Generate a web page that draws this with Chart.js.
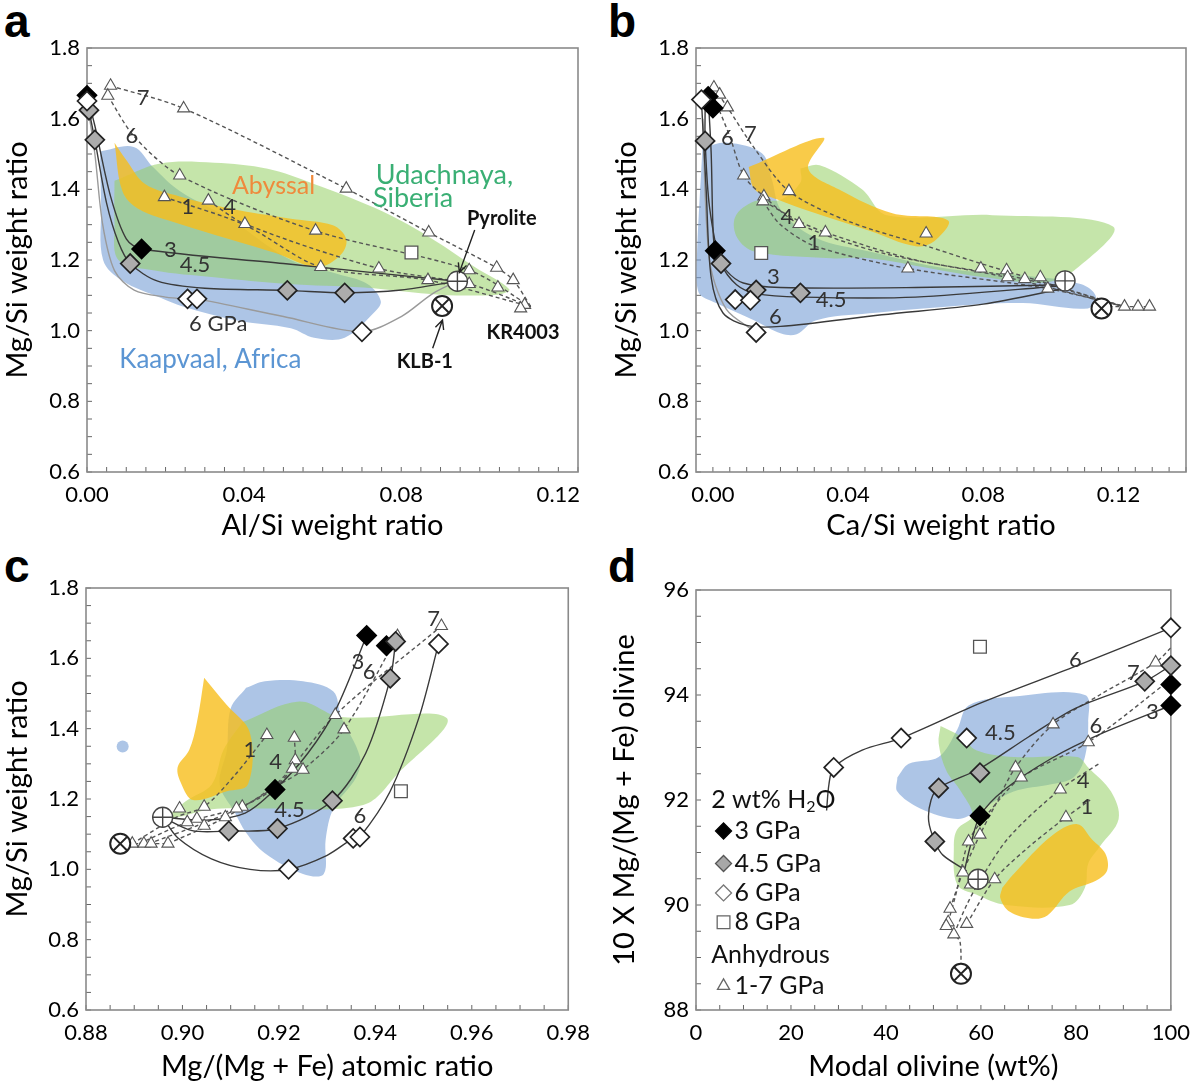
<!DOCTYPE html>
<html>
<head>
<meta charset="utf-8">
<script src="https://cdn.jsdelivr.net/npm/chart.js@4.4.1/dist/chart.umd.min.js"></script>
<style>
  body { margin: 0; background: #fff; width: 1200px; height: 1086px; position: relative; overflow: hidden; }
  .panel { position: absolute; }
  .letter { position: absolute; font: bold 46px/46px "Liberation Sans", Arial, sans-serif; color: #000; }
</style>
</head>
<body>
<div class="letter" style="left:4px;top:-2px">a</div>
<div class="letter" style="left:608px;top:-2px">b</div>
<div class="letter" style="left:4px;top:543px">c</div>
<div class="letter" style="left:608px;top:543px">d</div>
<div class="panel" style="left:0;top:0"><canvas id="chA" width="600" height="545"></canvas></div>
<div class="panel" style="left:600px;top:0"><canvas id="chB" width="600" height="545"></canvas></div>
<div class="panel" style="left:0;top:545px"><canvas id="chC" width="600" height="541"></canvas></div>
<div class="panel" style="left:600px;top:545px"><canvas id="chD" width="600" height="541"></canvas></div>
<script>
// ---------- panel a : Al/Si vs Mg/Si ----------
const aXTicks = [0, 0.04, 0.08, 0.12];
const aYTicks = [0.6, 0.8, 1.0, 1.2, 1.4, 1.6, 1.8];
const aHyd3 = [[0, 1.666], [0.0139, 1.231]];
const aHyd45 = [[0.0005, 1.624], [0.002, 1.54], [0.011, 1.19], [0.051, 1.114], [0.0656, 1.107]];
const aHyd6 = [[0, 1.65], [0.0256, 1.09], [0.028, 1.09], [0.07, 0.997]];
const aHyd8 = [[0.0826, 1.221]];
const aAnhyd = [[0.006, 1.693], [0.0053, 1.665], [0.0246, 1.629], [0.0236, 1.439], [0.0197, 1.378], [0.0309, 1.368],
  [0.0402, 1.302], [0.066, 1.402], [0.0582, 1.283], [0.0595, 1.18], [0.0743, 1.176], [0.087, 1.278], [0.0868, 1.143],
  [0.0973, 1.171], [0.0973, 1.132], [0.1043, 1.178], [0.1046, 1.122], [0.1085, 1.143], [0.1114, 1.073], [0.1104, 1.063]];
const aPyrolite = [[0.0943, 1.14]];
const aKLB1 = [[0.0904, 1.07]];
const aCurve3 = [[0, 1.666], [0.002, 1.58], [0.006, 1.38], [0.010, 1.26], [0.0139, 1.231], [0.05, 1.19], [0.0943, 1.14]];
const aCurve45 = [[0.0005, 1.624], [0.002, 1.54], [0.005, 1.36], [0.008, 1.25], [0.011, 1.19], [0.018, 1.14], [0.03, 1.12],
  [0.051, 1.114], [0.0656, 1.107], [0.08, 1.115], [0.0943, 1.14]];
const aCurve6 = [[0, 1.65], [0.002, 1.5], [0.004, 1.3], [0.007, 1.17], [0.012, 1.115], [0.02, 1.095], [0.0256, 1.09],
  [0.028, 1.09], [0.05, 1.04], [0.07, 0.997], [0.08, 1.04], [0.088, 1.105], [0.0943, 1.14]];
const aDash7 = [[0.006, 1.693], [0.0246, 1.629], [0.066, 1.402], [0.087, 1.278], [0.1043, 1.178], [0.1085, 1.143], [0.113, 1.068]];
const aDash6 = [[0.0053, 1.665], [0.012, 1.55], [0.0236, 1.439], [0.058, 1.283], [0.0973, 1.171], [0.113, 1.068]];
const aDash4 = [[0.0309, 1.368], [0.0402, 1.302], [0.0743, 1.176], [0.0973, 1.132], [0.113, 1.068]];
const aDash1 = [[0.0197, 1.378], [0.04, 1.3], [0.0595, 1.18], [0.0868, 1.143], [0.113, 1.068]];
const aKaapvaal = [[0.0033, 1.507], [0.0119, 1.52], [0.0168, 1.463], [0.0236, 1.395], [0.0363, 1.317], [0.0519, 1.2],
  [0.0636, 1.161], [0.0714, 1.132], [0.0748, 1.083], [0.0729, 1.049], [0.0656, 0.98], [0.0578, 0.98], [0.0519, 1.007],
  [0.0382, 1.029], [0.0246, 1.068], [0.0187, 1.093], [0.009, 1.141], [0.0041, 1.2], [0.0036, 1.356]];
const aUdachnaya = [[0.007, 1.424], [0.0187, 1.473], [0.0324, 1.475], [0.046, 1.458], [0.0578, 1.415], [0.0753, 1.337],
  [0.088, 1.259], [0.0987, 1.18], [0.1075, 1.117], [0.1046, 1.102], [0.09, 1.102], [0.0704, 1.122], [0.051, 1.132],
  [0.0324, 1.151], [0.0168, 1.171], [0.008, 1.2], [0.007, 1.307]];
const aAbyssal = [[0.007, 1.532], [0.01, 1.483], [0.0148, 1.415], [0.0236, 1.38], [0.0363, 1.346], [0.0519, 1.317],
  [0.0626, 1.298], [0.066, 1.259], [0.0646, 1.215], [0.0587, 1.18], [0.048, 1.22], [0.0363, 1.259], [0.0236, 1.302],
  [0.0129, 1.346], [0.009, 1.395]];
const aNotes = [['Abyssal', 0.0475, 1.41, 'org'], ['Udachnaya,', 0.091, 1.439, 'grn'], ['Siberia', 0.083, 1.376, 'grn'],
  ['Pyrolite', 0.1056, 1.317, 'bold'], ['KR4003', 0.111, 0.995, 'bold'], ['KLB-1', 0.086, 0.912, 'bold'],
  ['Kaapvaal, Africa', 0.0314, 0.917, 'blu'], ['6 GPa', 0.0334, 1.02, 'num'], ['4.5', 0.0275, 1.185, 'num'],
  ['3', 0.0212, 1.229, 'num'], ['1', 0.0256, 1.351, 'num'], ['4', 0.0363, 1.351, 'num'], ['6', 0.0114, 1.551, 'num'],
  ['7', 0.0143, 1.659, 'num']];
const aArrows = [[0.0987, 1.285, 0.0948, 1.165], [0.088, 0.95, 0.0905, 1.03]];

// ---------- panel b : Ca/Si vs Mg/Si ----------
const bXTicks = [0, 0.04, 0.08, 0.12];
const bYTicks = aYTicks;
const bHyd3 = [[-0.0014, 1.663], [0, 1.63], [0.0007, 1.226]];
const bHyd45 = [[-0.0023, 1.537], [0.0024, 1.19], [0.0128, 1.115], [0.0259, 1.107]];
const bHyd6 = [[-0.0034, 1.654], [0.0066, 1.088], [0.0111, 1.086], [0.0128, 0.995]];
const bHyd8 = [[0.0143, 1.22]];
const bAnhyd = [[0.0003, 1.688], [0.002, 1.668], [0.0043, 1.632], [0.0091, 1.439], [0.0151, 1.38], [0.0148, 1.366],
  [0.0225, 1.395], [0.0255, 1.302], [0.0333, 1.278], [0.0631, 1.275], [0.0577, 1.176], [0.0793, 1.176], [0.0869, 1.171],
  [0.0872, 1.151], [0.0923, 1.146], [0.0969, 1.151], [0.0991, 1.119], [0.1218, 1.068], [0.1258, 1.068], [0.1292, 1.068]];
const bPyrolite = [[0.1042, 1.141]];
const bKLB1 = [[0.115, 1.063]];
const bCurve3 = [[-0.0014, 1.663], [-0.0005, 1.5], [0, 1.3], [0.0007, 1.226], [0.004, 1.17], [0.009, 1.135], [0.02, 1.122],
  [0.06, 1.122], [0.1042, 1.13]];
const bCurve45 = [[-0.0023, 1.625], [-0.0023, 1.537], [-0.001, 1.35], [0.0024, 1.19], [0.007, 1.13], [0.0128, 1.105],
  [0.0259, 1.095], [0.06, 1.095], [0.1042, 1.128]];
const bCurve6 = [[-0.0034, 1.654], [-0.002, 1.4], [-0.0005, 1.15], [0.003, 1.05], [0.01, 1.015], [0.02, 1.012], [0.05, 1.045],
  [0.08, 1.075], [0.1042, 1.12]];
const bCurve6b = [[-0.003, 1.6], [-0.001, 1.2], [0.004, 1.06], [0.0128, 0.995]];
const bDash7 = [[0.0003, 1.688], [0.0043, 1.632], [0.012, 1.52], [0.0225, 1.395], [0.04, 1.31], [0.0631, 1.24], [0.0793, 1.19],
  [0.0969, 1.14], [0.1218, 1.068]];
const bDash6 = [[0.0003, 1.66], [0.005, 1.55], [0.0091, 1.439], [0.0151, 1.38], [0.0255, 1.302], [0.05, 1.22], [0.0869, 1.151],
  [0.1218, 1.068]];
const bDash4 = [[0.0151, 1.366], [0.0255, 1.31], [0.0333, 1.278], [0.06, 1.2], [0.0923, 1.146], [0.1218, 1.068]];
const bDash1 = [[0.0148, 1.366], [0.02, 1.3], [0.03, 1.24], [0.0577, 1.176], [0.0991, 1.119], [0.1218, 1.068]];
const bTail = [[0.115, 1.068], [0.1292, 1.068]];
const bKaapvaal = [[-0.0031, 1.517], [0.0043, 1.532], [0.0145, 1.502], [0.0174, 1.429], [0.0202, 1.341], [0.0304, 1.263],
  [0.0463, 1.224], [0.069, 1.176], [0.0917, 1.156], [0.1088, 1.132], [0.1133, 1.098], [0.111, 1.063], [0.0917, 1.078],
  [0.069, 1.068], [0.0463, 1.049], [0.0304, 1.029], [0.0248, 0.99], [0.0202, 0.992], [0.0123, 1.029], [0.0009, 1.078],
  [-0.0042, 1.107], [-0.0048, 1.185]];
const bUdachnaya = [[0.0259, 1.459], [0.0316, 1.468], [0.0441, 1.4], [0.0514, 1.327], [0.0827, 1.327], [0.1184, 1.295],
  [0.1076, 1.176], [0.0986, 1.137], [0.0804, 1.151], [0.0645, 1.176], [0.0463, 1.205], [0.035, 1.205], [0.0123, 1.224],
  [0.0072, 1.263], [0.0066, 1.322], [0.0123, 1.366], [0.0202, 1.371], [0.0259, 1.419]];
const bAbyssal = [[0.0106, 1.463], [0.0327, 1.546], [0.0282, 1.459], [0.0372, 1.4], [0.0531, 1.332], [0.0696, 1.312],
  [0.0656, 1.254], [0.06, 1.239], [0.0463, 1.283], [0.0304, 1.332], [0.0191, 1.371], [0.0123, 1.4]];
const bNotes = [['6', 0.0043, 1.546, 'num'], ['7', 0.0111, 1.556, 'num'], ['4', 0.0219, 1.322, 'num'], ['1', 0.0299, 1.249, 'num'],
  ['3', 0.0179, 1.151, 'num'], ['4.5', 0.035, 1.088, 'num'], ['6', 0.0185, 1.039, 'num']];

// ---------- panel c : Mg# vs Mg/Si ----------
const cXTicks = [0.88, 0.90, 0.92, 0.94, 0.96, 0.98];
const cYTicks = aYTicks;
const cHyd3 = [[0.9382, 1.665], [0.9423, 1.636], [0.9192, 1.227]];
const cHyd45 = [[0.9442, 1.648], [0.9431, 1.543], [0.9311, 1.195], [0.9197, 1.116], [0.9096, 1.109]];
const cHyd6 = [[0.9531, 1.641], [0.9354, 1.088], [0.9368, 1.092], [0.922, 1.0]];
const cHyd8 = [[0.9453, 1.222]];
const cAnhyd = [[0.9537, 1.692], [0.9446, 1.663], [0.9317, 1.439], [0.9335, 1.398], [0.9175, 1.382], [0.9232, 1.374],
  [0.9234, 1.31], [0.9228, 1.286], [0.925, 1.283], [0.9124, 1.178], [0.9112, 1.173], [0.9089, 1.148], [0.9045, 1.178],
  [0.903, 1.144], [0.8994, 1.173], [0.901, 1.134], [0.9045, 1.124], [0.8896, 1.073], [0.892, 1.073], [0.8935, 1.073], [0.897, 1.073]];
const cPyrolite = [[0.8959, 1.148]];
const cKLB1 = [[0.8871, 1.073]];
const cBlueDot = [[0.8876, 1.349]];
const cCurve3 = [[0.8959, 1.148], [0.905, 1.14], [0.913, 1.16], [0.9192, 1.227], [0.926, 1.33], [0.932, 1.46], [0.9382, 1.665]];
const cCurve45 = [[0.8959, 1.148], [0.902, 1.11], [0.9096, 1.109], [0.9197, 1.116], [0.9311, 1.195], [0.938, 1.33], [0.9431, 1.543],
  [0.9442, 1.648]];
const cCurve6 = [[0.8959, 1.148], [0.899, 1.09], [0.906, 1.03], [0.914, 1.0], [0.922, 1.0], [0.93, 1.04], [0.9354, 1.088],
  [0.9368, 1.092], [0.943, 1.22], [0.949, 1.43], [0.9531, 1.641]];
const cDash1 = [[0.8896, 1.073], [0.899, 1.15], [0.9045, 1.178], [0.911, 1.27], [0.9175, 1.382]];
const cDash4 = [[0.891, 1.073], [0.901, 1.134], [0.9112, 1.173], [0.918, 1.22], [0.9228, 1.286], [0.9234, 1.31], [0.9232, 1.374]];
const cDash6 = [[0.893, 1.073], [0.903, 1.124], [0.9124, 1.178], [0.92, 1.24], [0.925, 1.283], [0.9335, 1.398], [0.9446, 1.663]];
const cDash7 = [[0.897, 1.073], [0.9089, 1.148], [0.92, 1.25], [0.9317, 1.439], [0.9537, 1.692]];
const cTail = [[0.8871, 1.073], [0.897, 1.073]];
const cKaapvaal = [[0.9132, 1.516], [0.9171, 1.535], [0.925, 1.535], [0.9313, 1.506], [0.9328, 1.437], [0.9368, 1.32],
  [0.936, 1.261], [0.9313, 1.173], [0.9297, 1.085], [0.9293, 0.987], [0.925, 0.987], [0.9171, 1.046], [0.9132, 1.104],
  [0.9108, 1.163], [0.9077, 1.242], [0.9092, 1.339], [0.91, 1.457]];
const cUdachnaya = [[0.9124, 1.418], [0.9242, 1.477], [0.9328, 1.433], [0.9548, 1.43], [0.9446, 1.271], [0.9375, 1.183],
  [0.9171, 1.173], [0.9061, 1.171], [0.899, 1.148], [0.8967, 1.144], [0.9006, 1.193], [0.9061, 1.242], [0.9085, 1.339]];
const cAbyssal = [[0.9045, 1.545], [0.9092, 1.467], [0.914, 1.388], [0.9136, 1.242], [0.9092, 1.222], [0.9022, 1.197],
  [0.8998, 1.242], [0.899, 1.29], [0.9014, 1.339], [0.903, 1.418]];
const cNotes = [['1', 0.914, 1.339, 'num'], ['4', 0.9193, 1.305, 'num'], ['3', 0.9364, 1.589, 'num'], ['6', 0.9387, 1.56, 'num'],
  ['7', 0.9521, 1.712, 'num'], ['4.5', 0.9222, 1.168, 'num'], ['6', 0.9368, 1.153, 'num']];

// ---------- panel d : modal olivine vs olivine Mg# ----------
const dXTicks = [0, 20, 40, 60, 80, 100];
const dYTicks = [88, 90, 92, 94, 96];
const dHyd3 = [[100, 94.2], [100, 93.8], [59.8, 91.7]];
const dHyd45 = [[100, 94.56], [94.5, 94.26], [59.8, 92.52], [51.1, 92.23], [50.3, 91.21]];
const dHyd6 = [[100, 95.28], [57, 93.18], [43.2, 93.18], [29, 92.62]];
const dHyd8 = [[59.8, 94.92]];
const dAnhyd = [[96.8, 94.62], [75.2, 93.44], [82.6, 93.1], [67.3, 92.62], [68.5, 92.43], [76.7, 92.2], [77.9, 91.67],
  [59.8, 91.34], [57.4, 91.21], [56.2, 90.62], [57.8, 90.39], [62.9, 90.49], [53.5, 89.93], [53.1, 89.67], [57, 89.64],
  [54.3, 89.44], [52.7, 89.6]];
const dPyrolite = [[59.4, 90.49]];
const dKLB1 = [[55.8, 88.69]];
const dCurve6 = [[27.5, 91.8], [28, 92.3], [29, 92.62], [35, 92.95], [43.2, 93.18], [60, 93.85], [80, 94.55], [100, 95.28]];
const dCurve45 = [[57, 90.65], [52, 90.95], [50.3, 91.21], [49, 91.6], [49.5, 92.0], [51.1, 92.23], [59.8, 92.6], [70, 93.2],
  [80, 93.75], [94.5, 94.26], [100, 94.56]];
const dCurve3 = [[56.5, 90.65], [58, 91.2], [59.8, 91.7], [65, 92.2], [75, 92.8], [85, 93.25], [100, 93.8]];
const dDash7 = [[53.5, 89.93], [56.2, 90.62], [59.8, 91.34], [63, 91.9], [67.3, 92.62], [75.2, 93.44], [85, 94.0], [96.8, 94.62],
  [100, 94.9]];
const dDash6 = [[53.1, 89.67], [55, 90.3], [57.4, 91.21], [62, 91.8], [68.5, 92.43], [82.6, 93.1], [100, 94.3]];
const dDash4 = [[54.3, 89.44], [57, 90.0], [60, 90.5], [66, 91.3], [76.7, 92.2], [85, 92.7]];
const dDash1 = [[57, 89.64], [62.9, 90.49], [70, 91.1], [77.9, 91.67], [83, 92.0]];
const dDashK = [[55.8, 88.69], [55.6, 89.3], [54.3, 89.44]];
const dKaapvaal = [[42.4, 92.43], [44.8, 92.69], [51.1, 92.82], [55, 93.34], [57.4, 93.8], [66.9, 93.97], [81.9, 94.0],
  [82.6, 93.48], [81.9, 92.82], [79.5, 92.43], [74.8, 92.3], [66.9, 92.16], [59, 91.77], [55, 91.64], [47.2, 91.84], [42.4, 92.16]];
const dUdachnaya = [[51.5, 93.41], [55.8, 93.21], [59, 92.95], [66.9, 92.82], [80.3, 92.82], [82.6, 92.62], [87.4, 92.16],
  [89, 91.64], [85, 91.11], [82.6, 90.79], [81.9, 90.33], [78.7, 90.0], [65.3, 90.0], [59, 90.2], [55, 90.39], [54.3, 91.11],
  [55, 91.44], [58.2, 91.7], [55.8, 92.16], [52.7, 92.56], [51.1, 93.08]];
const dAbyssal = [[64.5, 90.33], [66.9, 90.59], [74.8, 91.31], [80.3, 91.54], [83.4, 91.25], [86.2, 90.98], [86.6, 90.66],
  [84.2, 90.46], [78.7, 90.26], [74, 89.8], [70.8, 89.74], [66.1, 89.87], [64.1, 90.13]];
const dNotes = [['6', 79.9, 94.66, 'num'], ['7', 92.1, 94.43, 'num'], ['4.5', 64.1, 93.28, 'num'], ['6', 84.2, 93.41, 'num'],
  ['4', 81.5, 92.36, 'num'], ['1', 82.3, 91.87, 'num'], ['3', 96.1, 93.67, 'num']];
const dLegendRows = [['head', '2 wt% H2O', 92.0], ['blk', '3 GPa', 91.41], ['gry', '4.5 GPa', 90.79], ['wht', '6 GPa', 90.23],
  ['sq', '8 GPa', 89.67], ['head', 'Anhydrous', 89.05], ['tri', '1-7 GPa', 88.46]];

// ---------- styling ----------
Chart.defaults.font.family = 'Lato';
Chart.defaults.color = '#000';

const BLUE = 'rgba(118,158,214,0.6)';
const GREEN = 'rgba(150,208,100,0.55)';
const ORANGE = 'rgba(247,190,28,0.8)';
const noteStyles = {
  org: ['25px Lato', '#ef8a3c'], grn: ['27px Lato', '#3aaf74'], blu: ['26px Lato', '#5b95d3'],
  bold: ['bold 20px Lato', '#111'], num: ['22px Lato', '#333']
};

const P = arr => arr.map(([x, y]) => ({ x, y }));
const region = (d, color, order) => ({ data: P([...d, d[0]]), showLine: true, fill: 'shape', backgroundColor: color,
  borderColor: 'rgba(0,0,0,0)', borderWidth: 0, pointRadius: 0, tension: 0.35, order });
const curve = (d, color, dash) => ({ data: P(d), showLine: true, fill: false, borderColor: color, borderWidth: 1.4,
  borderDash: dash || [], pointRadius: 0, tension: 0.3, order: 4 });
const marks = (d, style, r, fill, stroke, bw, order) => ({ data: P(d), showLine: false, clip: false, pointStyle: style,
  pointRadius: r, pointBackgroundColor: fill, pointBorderColor: stroke, pointBorderWidth: bw, order: order === undefined ? 2 : order });

function sampleSets(s) {
  return [
    region(s.kaap, BLUE, 9), region(s.udach, GREEN, 8), region(s.abys, ORANGE, 7),
    ...s.solid.map(d => curve(d, '#3a3a3a')),
    ...(s.light || []).map(d => curve(d, '#9a9a9a')),
    ...s.dashed.map(d => curve(d, '#555', [4, 3])),
    marks(s.anhyd, 'triangle', 7, '#fff', '#555', 1.1, 3),
    marks(s.h8, 'rect', 9, '#fff', '#555', 1.3),
    marks(s.h6, 'rectRot', 9.5, '#fff', '#222', 1.7),
    marks(s.h45, 'rectRot', 9.5, '#acacac', '#222', 1.7),
    marks(s.h3, 'rectRot', 9.5, '#000', '#000', 1.7),
    marks(s.pyro, 'circle', 10, '#fff', '#444', 1.4, 1),
    marks(s.pyro, 'cross', 10, '#fff', '#444', 1.4, 0),
    marks(s.klb, 'circle', 10, '#fff', '#222', 2, 1),
    marks(s.klb, 'crossRot', 10, '#fff', '#222', 2, 0)
  ];
}

const between = (a, b, step) => { const out = []; for (let v = a; v <= b + step / 10; v += step) out.push(v); return out; };

function makeDeco(cfg) {
  return {
    id: 'deco',
    beforeDatasetsDraw(chart) {
      const { ctx, chartArea: c, scales: { x, y } } = chart;
      ctx.save();
      ctx.strokeStyle = '#666';
      ctx.lineWidth = 1;
      cfg.xMinor.forEach(v => { const p = x.getPixelForValue(v); ctx.beginPath(); ctx.moveTo(p, c.bottom); ctx.lineTo(p, c.bottom - 5); ctx.stroke(); });
      cfg.yMinor.forEach(v => { const p = y.getPixelForValue(v); ctx.beginPath(); ctx.moveTo(c.left, p); ctx.lineTo(c.left + 5, p); ctx.stroke(); });
      ctx.strokeStyle = '#8a8a8a';
      ctx.lineWidth = 1.6;
      ctx.strokeRect(c.left, c.top, c.right - c.left, c.bottom - c.top);
      ctx.restore();
    },
    afterDatasetsDraw(chart) {
      const { ctx, scales: { x, y } } = chart;
      ctx.save();
      ctx.textAlign = 'center';
      ctx.textBaseline = 'middle';
      (cfg.notes || []).forEach(([t, vx, vy, st]) => {
        ctx.font = noteStyles[st][0];
        ctx.fillStyle = noteStyles[st][1];
        ctx.fillText(t, x.getPixelForValue(vx), y.getPixelForValue(vy));
      });
      ctx.strokeStyle = '#222';
      ctx.lineWidth = 1.4;
      (cfg.arrows || []).forEach(([x1, y1, x2, y2]) => {
        const p1 = [x.getPixelForValue(x1), y.getPixelForValue(y1)], p2 = [x.getPixelForValue(x2), y.getPixelForValue(y2)];
        const ang = Math.atan2(p2[1] - p1[1], p2[0] - p1[0]);
        ctx.beginPath();
        ctx.moveTo(p1[0], p1[1]); ctx.lineTo(p2[0], p2[1]);
        ctx.moveTo(p2[0] - 10 * Math.cos(ang - 0.45), p2[1] - 10 * Math.sin(ang - 0.45));
        ctx.lineTo(p2[0], p2[1]);
        ctx.lineTo(p2[0] - 10 * Math.cos(ang + 0.45), p2[1] - 10 * Math.sin(ang + 0.45));
        ctx.stroke();
      });
      if (cfg.legend) {
        const L = cfg.legend;
        ctx.textAlign = 'left';
        ctx.font = '25px Lato';
        L.rows.forEach(([kind, label, vy]) => {
          const py = y.getPixelForValue(vy);
          ctx.fillStyle = '#111';
          if (kind === 'head') {
            const px = x.getPixelForValue(L.headX);
            if (label.indexOf('H2O') >= 0) {
              const pre = label.replace('H2O', 'H');
              ctx.fillText(pre, px, py);
              let w = ctx.measureText(pre).width;
              ctx.font = '16px Lato';
              ctx.fillText('2', px + w, py + 7);
              w += ctx.measureText('2').width;
              ctx.font = '25px Lato';
              ctx.fillText('O', px + w, py);
            } else {
              ctx.fillText(label, px, py);
            }
            return;
          }
          const mx = x.getPixelForValue(L.markX);
          const st = { blk: ['rectRot', 8, '#000', '#000'], gry: ['rectRot', 8, '#a8a8a8', '#555'], wht: ['rectRot', 8, '#fff', '#777'],
            sq: ['rect', 9, '#fff', '#666'], tri: ['triangle', 7, '#fff', '#666'] }[kind];
          ctx.fillStyle = st[2];
          ctx.strokeStyle = st[3];
          ctx.lineWidth = 1.3;
          Chart.helpers.drawPoint(ctx, { pointStyle: st[0], radius: st[1], rotation: 0, borderWidth: 1.3 }, mx, py);
          ctx.fillStyle = '#111';
          ctx.fillText(label, x.getPixelForValue(L.textX), py);
        });
      }
      ctx.restore();
    }
  };
}

function panel(id, sc, datasets, deco) {
  new Chart(document.getElementById(id), {
    type: 'scatter',
    data: { datasets },
    options: {
      responsive: false, animation: false, devicePixelRatio: 1, events: [],
      layout: { padding: { top: sc.top, right: sc.right, left: 0, bottom: 0 } },
      plugins: { legend: { display: false }, tooltip: { enabled: false } },
      scales: {
        x: {
          type: 'linear', min: sc.xMin, max: sc.xMax,
          afterBuildTicks: s => { s.ticks = sc.xTicks.map(v => ({ value: v })); },
          afterFit: s => { s.height = sc.xH; },
          grid: { display: false, drawTicks: false }, border: { display: false },
          ticks: { padding: 10, color: '#000', font: { size: 22 }, autoSkip: false, maxRotation: 0, callback: v => sc.xFmt(v) },
          title: { display: true, text: sc.xTitle, color: '#000', font: { size: 29 }, padding: { top: 0, bottom: 2 } }
        },
        y: {
          type: 'linear', min: sc.yMin, max: sc.yMax,
          afterBuildTicks: s => { s.ticks = sc.yTicks.map(v => ({ value: v })); },
          afterFit: s => { s.width = sc.yW; },
          grid: { display: false, drawTicks: false }, border: { display: false },
          ticks: { padding: 7, color: '#000', font: { size: 22 }, autoSkip: false, callback: v => sc.yFmt(v) },
          title: { display: true, text: sc.yTitle, color: '#000', font: { size: 29 }, padding: { top: sc.yTitlePad, bottom: 0 } }
        }
      }
    },
    plugins: [makeDeco(deco)]
  });
}

const f2 = v => v.toFixed(2), f1 = v => v.toFixed(1), f0 = v => String(v);

panel('chA',
  { top: 48, right: 22, xH: 73, yW: 87, xMin: 0, xMax: 0.125, yMin: 0.6, yMax: 1.8, xTicks: aXTicks, yTicks: aYTicks,
    xFmt: f2, yFmt: f1, xTitle: 'Al/Si weight ratio', yTitle: 'Mg/Si weight ratio', yTitlePad: 0 },
  sampleSets({ kaap: aKaapvaal, udach: aUdachnaya, abys: aAbyssal, solid: [aCurve3, aCurve45], light: [aCurve6],
    dashed: [aDash7, aDash6, aDash4, aDash1], anhyd: aAnhyd, h8: aHyd8, h6: aHyd6, h45: aHyd45, h3: aHyd3, pyro: aPyrolite, klb: aKLB1 }),
  { xMinor: between(0, 0.125, 0.005), yMinor: between(0.6, 1.8, 0.05), notes: aNotes, arrows: aArrows });

panel('chB',
  { top: 48, right: 14, xH: 73, yW: 96, xMin: -0.005, xMax: 0.14, yMin: 0.6, yMax: 1.8, xTicks: bXTicks, yTicks: bYTicks,
    xFmt: f2, yFmt: f1, xTitle: 'Ca/Si weight ratio', yTitle: 'Mg/Si weight ratio', yTitlePad: 9 },
  sampleSets({ kaap: bKaapvaal, udach: bUdachnaya, abys: bAbyssal, solid: [bCurve3, bCurve45, bCurve6], light: [bCurve6b],
    dashed: [bDash7, bDash6, bDash4, bDash1, bTail], anhyd: bAnhyd, h8: bHyd8, h6: bHyd6, h45: bHyd45, h3: bHyd3, pyro: bPyrolite, klb: bKLB1 }),
  { xMinor: between(0, 0.14, 0.005), yMinor: between(0.6, 1.8, 0.05), notes: bNotes });

const cSets = sampleSets({ kaap: cKaapvaal, udach: cUdachnaya, abys: cAbyssal, solid: [cCurve3, cCurve45, cCurve6],
  dashed: [cDash1, cDash4, cDash6, cDash7, cTail], anhyd: cAnhyd, h8: cHyd8, h6: cHyd6, h45: cHyd45, h3: cHyd3, pyro: cPyrolite, klb: cKLB1 });
cSets.push(marks(cBlueDot, 'circle', 6, BLUE, 'rgba(0,0,0,0)', 0, 9));
panel('chC',
  { top: 43, right: 23, xH: 76, yW: 86, xMin: 0.88, xMax: 0.98, yMin: 0.6, yMax: 1.8, xTicks: cXTicks, yTicks: cYTicks,
    xFmt: f2, yFmt: f1, xTitle: 'Mg/(Mg + Fe) atomic ratio', yTitle: 'Mg/Si weight ratio', yTitlePad: 0 },
  cSets,
  { xMinor: between(0.88, 0.98, 0.005), yMinor: between(0.6, 1.8, 0.05), notes: cNotes });

panel('chD',
  { top: 45, right: 14, xH: 76, yW: 96, xMin: 0, xMax: 100, yMin: 88, yMax: 96, xTicks: dXTicks, yTicks: dYTicks,
    xFmt: f0, yFmt: f0, xTitle: 'Modal olivine (wt%)', yTitle: '10 X Mg/(Mg + Fe) olivine', yTitlePad: 7 },
  sampleSets({ kaap: dKaapvaal, udach: dUdachnaya, abys: dAbyssal, solid: [dCurve6, dCurve45, dCurve3],
    dashed: [dDash7, dDash6, dDash4, dDash1, dDashK], anhyd: dAnhyd, h8: dHyd8, h6: dHyd6, h45: dHyd45, h3: dHyd3, pyro: dPyrolite, klb: dKLB1 }),
  { xMinor: between(0, 100, 5), yMinor: between(88, 96, 0.5), notes: dNotes,
    legend: { rows: dLegendRows, headX: 3.2, markX: 5.8, textX: 8.1 } });
</script>
</body>
</html>
